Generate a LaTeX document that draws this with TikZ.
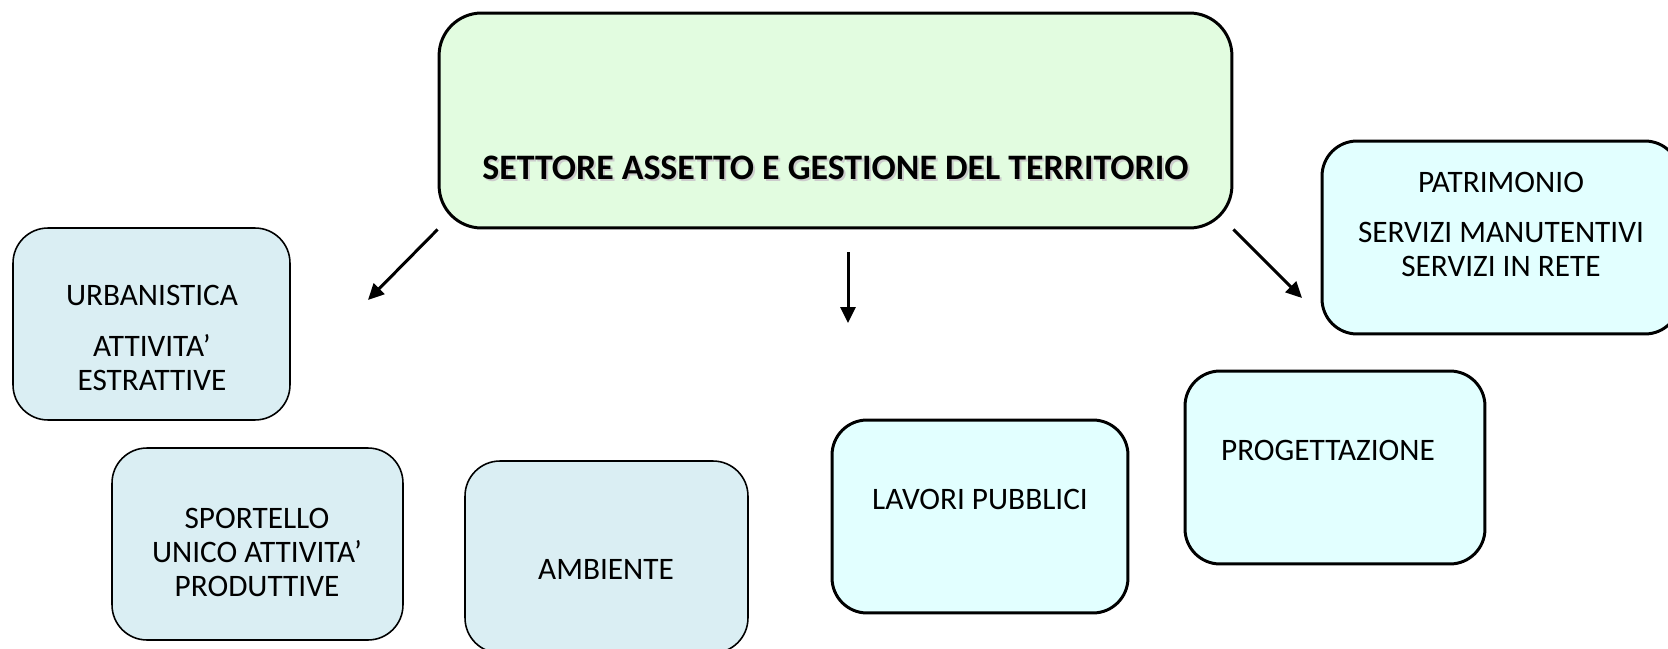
\documentclass[tikz,border=0pt]{standalone}
\usepackage{fontspec}
\setmainfont{Carlito}
\usetikzlibrary{arrows.meta, positioning}
\definecolor{titlegreen}{RGB}{226, 252, 224}
\definecolor{unitblue}{RGB}{218, 238, 243}
\definecolor{unitcyan}{RGB}{226, 255, 255}
\tikzset{
  bluebox/.style={draw, fill=unitblue, rounded corners=0.7cm, line width=0.9pt, minimum height=3.84cm},
  cyanbox/.style={draw, fill=unitcyan, rounded corners=0.7cm, line width=1.7pt, minimum height=3.86cm},
  unittext/.style={align=center, inner sep=0pt, font=\fontsize{17.8}{19.5}\selectfont},
  titletext/.style={inner sep=0pt, font=\fontsize{20.4}{24}\selectfont\bfseries},
  bigarrow/.style={-{Triangle[length=0.32cm, width=0.3cm]}, line width=1.7pt}
}

\begin{document}
\begin{tikzpicture}[x=0.02cm, y=-0.02cm]
  \useasboundingbox (0,0) rectangle (1668,649);

  % Settore
  \node[draw, fill=titlegreen, rounded corners=0.85cm, line width=1.7pt, minimum width=15.86cm, minimum height=4.3cm] (settore) at (835.5,120.5) {};
  \node[titletext, text=black!20] (titleshade) at (837.5,170) {SETTORE ASSETTO E GESTIONE DEL TERRITORIO};
  \node[titletext] (title) at (835.5,168) {SETTORE ASSETTO E GESTIONE DEL TERRITORIO};

  % Servizi
  \node[bluebox, minimum width=5.54cm] (urban) at (151.5,324) {};
  \node[unittext] (urbantext) at (152,338) {URBANISTICA\\[0.32cm]ATTIVITA’\\ESTRATTIVE};

  \node[bluebox, minimum width=5.82cm] (suap) at (257.5,544) {};
  \node[unittext] (suaptext) at (257,552.5) {SPORTELLO\\UNICO ATTIVITA’\\PRODUTTIVE};

  \node[bluebox, minimum width=5.66cm] (ambiente) at (606.5,557) {};
  \node[unittext] (ambientetext) at (606,569.5) {AMBIENTE};

  \node[cyanbox, minimum width=5.92cm] (lavori) at (980,516.5) {};
  \node[unittext] (lavoritext) at (980,499.5) {LAVORI PUBBLICI};

  \node[cyanbox, minimum width=6cm] (progett) at (1335,467.5) {};
  \node[unittext] (progetttext) at (1328,450.5) {PROGETTAZIONE};

  \node[cyanbox, minimum width=7.16cm] (patrim) at (1501,237.5) {};
  \node[unittext] (patrimtext) at (1501,224.5) {PATRIMONIO\\[0.3cm]SERVIZI MANUTENTIVI\\SERVIZI IN RETE};

  % Frecce
  \coordinate (tipleft) at (368,300);
  \coordinate (midtop) at (848,252);
  \coordinate (tipmid) at (848,323);
  \coordinate (tipright) at (1302,298);
  \draw[bigarrow] (settore.south west) -- (tipleft);
  \draw[bigarrow] (midtop) -- (tipmid);
  \draw[bigarrow] (settore.south east) -- (tipright);
\end{tikzpicture}
\end{document}
